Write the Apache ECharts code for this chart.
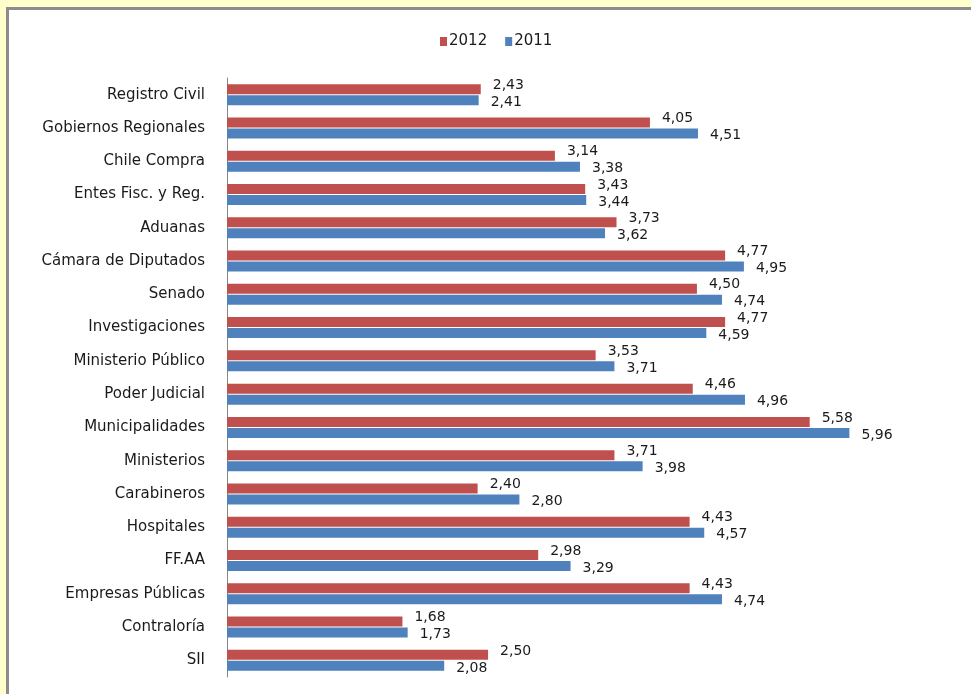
<!DOCTYPE html>
<html>
<head>
<meta charset="utf-8">
<script src="https://cdn.jsdelivr.net/npm/echarts@6/dist/echarts.min.js"></script>
<style>
  html, body { margin: 0; padding: 0; }
  body { width: 971px; height: 694px; background: #ffffcc; position: relative; overflow: hidden; }
  #frame {
    position: absolute; left: 6px; top: 7px; right: 0; bottom: 0;
    background: #fff; border-left: 3px solid #8c8c8c; border-top: 3px solid #8c8c8c;
  }
  #chart { position: absolute; left: 0; top: 0; width: 971px; height: 694px; }
</style>
</head>
<body>
<div id="frame"></div>
<div id="chart"></div>
<script>
// categories, top to bottom
const categories = [
  "Registro Civil", "Gobiernos Regionales", "Chile Compra", "Entes Fisc. y Reg.",
  "Aduanas", "Cámara de Diputados", "Senado", "Investigaciones",
  "Ministerio Público", "Poder Judicial", "Municipalidades", "Ministerios",
  "Carabineros", "Hospitales", "FF.AA", "Empresas Públicas", "Contraloría", "SII"
];
const values2012 = [2.43, 4.05, 3.14, 3.43, 3.73, 4.77, 4.50, 4.77, 3.53, 4.46, 5.58, 3.71, 2.40, 4.43, 2.98, 4.43, 1.68, 2.50];
const values2011 = [2.41, 4.51, 3.38, 3.44, 3.62, 4.95, 4.74, 4.59, 3.71, 4.96, 5.96, 3.98, 2.80, 4.57, 3.29, 4.74, 1.73, 2.08];
const seriesNames = ["2012", "2011"];

const chart = echarts.init(document.getElementById("chart"));
const fmt = (p) => p.value.toFixed(2).replace(".", ",");
const txt = "#1a1a1a";
const font = "DejaVu Sans";

chart.setOption({
  backgroundColor: "transparent",
  animation: false,
  legend: {
    data: seriesNames,
    top: 29,
    left: 435,
    icon: "rect",
    itemWidth: 7,
    itemHeight: 9,
    itemGap: 18,
    textStyle: { color: txt, fontSize: 15, fontFamily: font, padding: [0, 0, 0, -3] }
  },
  grid: { left: 227, right: 13, top: 78, bottom: 17 },
  xAxis: { type: "value", min: 0, max: 7, show: false },
  yAxis: {
    type: "category",
    data: categories,
    inverse: true,
    axisLine: { show: true, lineStyle: { color: "#868686", width: 1 } },
    axisTick: { show: false },
    axisLabel: { color: txt, fontSize: 15, fontFamily: font, margin: 22 }
  },
  series: [
    {
      name: seriesNames[0],
      type: "bar",
      data: values2012,
      barWidth: 10,
      barGap: "10%",
      itemStyle: { color: "#c0504d" },
      label: { show: true, position: "right", distance: 12, offset: [0, -4], color: txt, fontSize: 14, fontFamily: font, formatter: fmt }
    },
    {
      name: seriesNames[1],
      type: "bar",
      data: values2011,
      barWidth: 10,
      barGap: "10%",
      itemStyle: { color: "#4f81bd" },
      label: { show: true, position: "right", distance: 12, offset: [0, 2], color: txt, fontSize: 14, fontFamily: font, formatter: fmt }
    }
  ]
});
</script>
</body>
</html>
